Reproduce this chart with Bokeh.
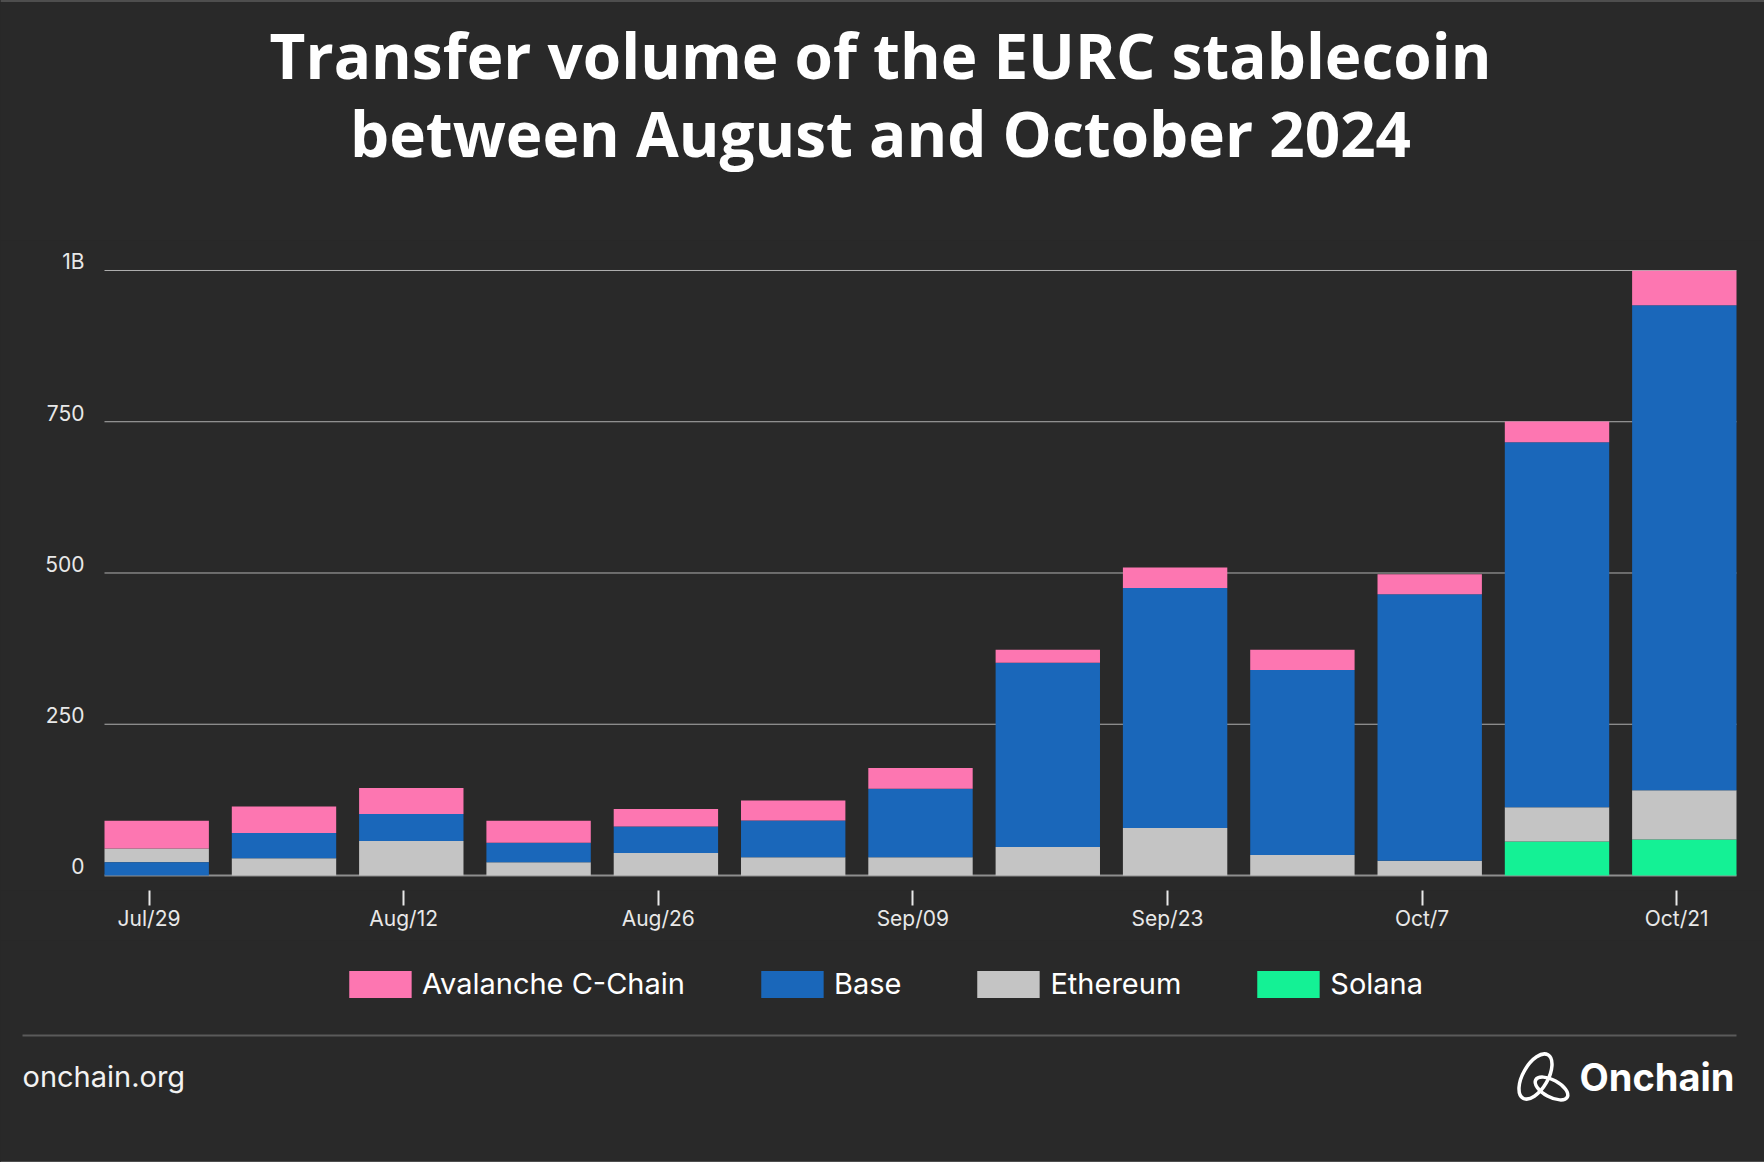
from bokeh.plotting import figure
from bokeh.models import (Range1d, FixedTicker, ColumnDataSource, Legend, LegendItem,
                          GlobalInlineStyleSheet)
from bokeh.layouts import column
from bokeh.embed import file_html
from bokeh.resources import INLINE
from bokeh.core.properties import value

# ---------------- data (millions of EUR) ----------------
weeks = ["Jul/29", "Aug/05", "Aug/12", "Aug/19", "Aug/26", "Sep/02", "Sep/09",
         "Sep/16", "Sep/23", "Sep/30", "Oct/7", "Oct/14", "Oct/21"]
tick_weeks = ["Jul/29", "Aug/12", "Aug/26", "Sep/09", "Sep/23", "Oct/7", "Oct/21"]

solana = [0, 0, 0, 0, 0, 0, 0, 0, 0, 0, 0, 56, 59.5]
ethereum = [22.5, 28.7, 57, 22, 37, 30, 30, 47, 78.5, 33.7, 24.4, 57, 81.5]
base = [22, 41.5, 44.5, 32, 44, 61, 113.5, 304.5, 396.5, 306, 440.5, 603, 801.7]
avalanche = [46, 44, 43, 36.5, 29, 33, 34, 21.5, 34, 33.5, 33, 34.5, 57]

y_ticks = [0, 250, 500, 750, 1000]
y_tick_labels = ["0", "250", "500", "750", "1B"]

series_names = ["Avalanche C-Chain", "Base", "Ethereum", "Solana"]
default_order = ["Solana", "Ethereum", "Base", "Avalanche C-Chain"]
first_week_order = ["Solana", "Base", "Ethereum", "Avalanche C-Chain"]
stack_order = [first_week_order] + [default_order] * (len(weeks) - 1)

colors = {"Avalanche C-Chain": "#FD76B1", "Base": "#1A67BA",
          "Ethereum": "#C4C4C4", "Solana": "#14F195"}

BG = "#292929"
FONT = "Inter"
TITLE_FONT = "Open Sans"
W = 1764

series = {"Solana": solana, "Ethereum": ethereum, "Base": base,
          "Avalanche C-Chain": avalanche}

xs = list(range(len(weeks)))
bottoms = {k: [] for k in series}
tops = {k: [] for k in series}
for i in xs:
    acc = 0.0
    for name in stack_order[i]:
        v = series[name][i]
        bottoms[name].append(acc)
        acc += v
        tops[name].append(acc)


def blank(fig):
    fig.axis.visible = False
    fig.grid.visible = False
    fig.outline_line_color = None
    fig.background_fill_color = BG
    fig.border_fill_color = BG


# ---------------- header (title) ----------------
HH = 240
header = figure(width=W, height=HH, x_range=Range1d(0, W), y_range=Range1d(0, HH),
                output_backend="svg", toolbar_location=None, title=None,
                min_border_left=0, min_border_right=0, min_border_top=0, min_border_bottom=0)
blank(header)
header.segment(x0=[0], y0=[HH], x1=[W], y1=[HH], line_color="#757575", line_width=2)
header.text(x=[880, 880], y=[HH - 78.3, HH - 156.7], y_offset=-24,
            text=["Transfer volume of the EURC stablecoin", "between August and October 2024"],
            text_font=value(TITLE_FONT), text_font_size=value("62px"), text_font_style="bold",
            text_color="#FFFFFF", text_align="center", text_baseline="alphabetic")

# ---------------- main chart ----------------
# bars span 104px..1736px of the 1764px wide canvas
PX_PER_UNIT = 1632 / 12.82
x_start = -0.41 - 104 / PX_PER_UNIT
x_end = len(weeks) - 1 + 0.41 + 28 / PX_PER_UNIT

MH = 700
p = figure(width=W, height=MH, x_range=Range1d(x_start, x_end),
           y_range=Range1d(-24.8, 1000 + 30 / 0.605), output_backend="svg",
           toolbar_location=None, title=None,
           min_border_left=0, min_border_right=0, min_border_top=0, min_border_bottom=50)
p.background_fill_color = BG
p.border_fill_color = BG
p.outline_line_color = None
p.grid.visible = False
p.yaxis.visible = False

# grid lines and zero line across the bar area
left_edge = -0.41
right_edge = len(weeks) - 1 + 0.41
p.segment(x0=[left_edge] * 4, x1=[right_edge] * 4, y0=y_ticks[1:], y1=y_ticks[1:],
          line_color="#B0B0B0", line_width=1)
p.segment(x0=[left_edge], x1=[right_edge], y0=[0], y1=[0], line_color="#8E8E8E", line_width=2)

for name in default_order:
    src = ColumnDataSource(dict(x=xs, bottom=bottoms[name], top=tops[name]))
    p.vbar(x="x", bottom="bottom", top="top", width=0.82, source=src,
           fill_color=colors[name], line_color=None)

# y tick labels, sitting on their grid lines
p.text(x=[left_edge] * len(y_ticks), y=y_ticks, text=y_tick_labels, x_offset=-20, y_offset=-9,
       text_align="right", text_baseline="alphabetic", text_font=value(FONT),
       text_font_size=value("21px"), text_color="#E8E8E8")

# x axis (week-start ticks sit slightly left of the bar centres)
tick_shift = -0.06
tick_pos = [weeks.index(t) + tick_shift for t in tick_weeks]
p.xaxis.ticker = FixedTicker(ticks=tick_pos)
p.xaxis.major_label_overrides = {pos: lab for pos, lab in zip(tick_pos, tick_weeks)}
p.xaxis.axis_line_color = None
p.xaxis.minor_tick_line_color = None
p.xaxis.major_tick_line_color = "#E8E8E8"
p.xaxis.major_tick_line_width = 2
p.xaxis.major_tick_in = 0
p.xaxis.major_tick_out = 15
p.xaxis.major_label_standoff = 0
p.xaxis.major_label_text_font = FONT
p.xaxis.major_label_text_font_size = "21px"
p.xaxis.major_label_text_color = "#E8E8E8"

# ---------------- footer (legend + branding) ----------------
FH = 1162 - HH - MH
footer = figure(width=W, height=FH, x_range=Range1d(0, W), y_range=Range1d(0, FH),
                output_backend="svg", toolbar_location=None, title=None,
                min_border_left=0, min_border_right=0, min_border_top=0, min_border_bottom=0)
blank(footer)

# legend swatches: renderers whose single point lies outside the visible range
legend_renderers = {}
for name in series_names:
    legend_renderers[name] = footer.vbar(x=[-1000], bottom=[-1000], top=[-990], width=1,
                                         fill_color=colors[name], line_color=None,
                                         border_radius=13)
legend = Legend(items=[LegendItem(label=n, renderers=[legend_renderers[n]]) for n in series_names],
                orientation="horizontal", location="top_center", background_fill_alpha=0,
                border_line_color=None, label_text_font=FONT, label_text_font_size="29px",
                label_text_color="#FFFFFF", glyph_width=78, glyph_height=34,
                label_standoff=3, spacing=68, padding=0, margin=26)
footer.add_layout(legend, "center")

footer.segment(x0=[22], y0=[FH - 95], x1=[1736], y1=[FH - 95], line_color="#5A5A5A", line_width=2)
footer.text(x=[22], y=[FH - 146.7], y_offset=-11, text=["onchain.org"], text_font=value(FONT),
            text_font_size=value("29px"), text_color="#F2F2F2", text_baseline="alphabetic")
footer.text(x=[1579], y=[FH - 150], y_offset=-14, text=["Onchain"], text_font=value(FONT),
            text_font_size=value("38px"), text_font_style="bold", text_color="#FFFFFF",
            text_baseline="alphabetic")
footer.ellipse(x=[1535, 1551], y=[FH - 136, FH - 148], width=[50, 36], height=[25, 17],
               angle=[1.05, -0.5], fill_color=None, line_color="#FFFFFF", line_width=3.5)
footer.segment(x0=[0], y0=[0], x1=[W], y1=[0], line_color="#757575", line_width=2)

layout = column(header, p, footer, spacing=0)
layout.stylesheets = [GlobalInlineStyleSheet(
    css="html, body { margin: 0 !important; padding: 0; background: #292929; overflow: hidden; }")]

open("out.html", "w").write(file_html(layout, INLINE))
